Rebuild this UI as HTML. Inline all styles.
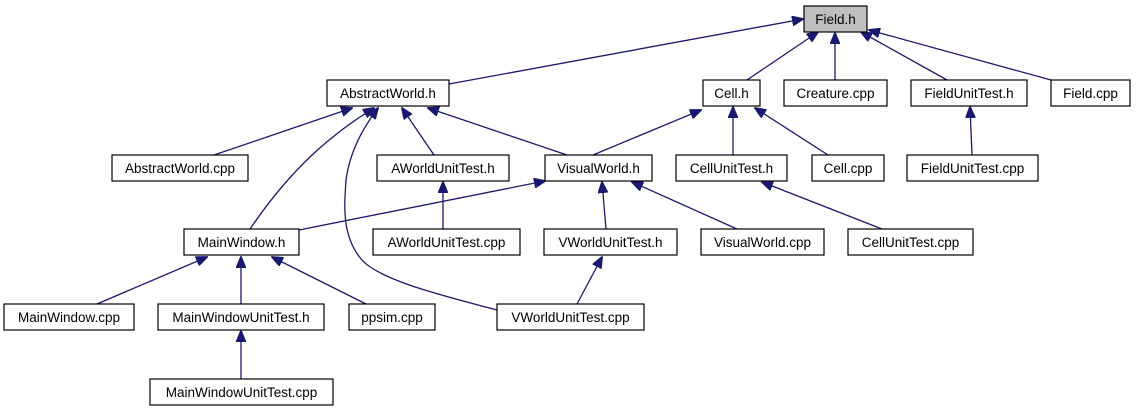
<!DOCTYPE html>
<html><head><meta charset="utf-8"><style>
html,body{margin:0;padding:0;background:#fff;}
svg{display:block;}
text{font-family:"Liberation Sans",sans-serif;font-size:13.5px;fill:#000;}
</style></head><body>
<svg width="1136" height="411" viewBox="0 0 1136 411" xmlns="http://www.w3.org/2000/svg">
<defs>
<marker id="a" markerWidth="12" markerHeight="10" refX="11" refY="5" orient="auto" markerUnits="userSpaceOnUse">
<path d="M0,0 L12,5 L0,10 Z" fill="#191970" stroke="#191970"/>
</marker>
</defs>
<g stroke="#191970" stroke-width="1.3" fill="none" marker-end="url(#a)">
<line x1="449" y1="84" x2="803" y2="19"/>
<line x1="747" y1="80" x2="818" y2="32"/>
<line x1="835" y1="80" x2="835" y2="33"/>
<line x1="947" y1="80" x2="861" y2="32"/>
<line x1="1051" y1="80" x2="869" y2="30"/>
<line x1="214" y1="155" x2="352" y2="108"/>
<path d="M250,229 C290,170 330,135 374,108"/>
<path d="M497,310 C440,295 380,280 362,260 C340,235 345,200 346,180 C350,150 365,125 378,108"/>
<line x1="434" y1="155" x2="402" y2="108"/>
<line x1="567" y1="155" x2="428" y2="108"/>
<line x1="593" y1="155" x2="701" y2="110"/>
<line x1="733" y1="155" x2="733" y2="107"/>
<line x1="828" y1="155" x2="755" y2="108"/>
<line x1="972" y1="155" x2="970" y2="107"/>
<line x1="299" y1="230" x2="545" y2="181"/>
<line x1="443" y1="229" x2="443" y2="182"/>
<line x1="606" y1="229" x2="602" y2="182"/>
<line x1="737" y1="229" x2="632" y2="182"/>
<line x1="882" y1="229" x2="762" y2="182"/>
<line x1="97" y1="304" x2="207" y2="257"/>
<line x1="241" y1="304" x2="241" y2="257"/>
<line x1="366" y1="304" x2="272" y2="257"/>
<line x1="577" y1="304" x2="602" y2="257"/>
<line x1="241" y1="379" x2="241" y2="331"/>
</g>
<g stroke="#000" stroke-width="1.2" fill="#fff">
<rect x="804" y="6" width="63" height="26" fill="#bfbfbf"/>
<rect x="327" y="80" width="122" height="26"/>
<rect x="703" y="80" width="57" height="26"/>
<rect x="784" y="80" width="103" height="26"/>
<rect x="911" y="80" width="116" height="26"/>
<rect x="1051" y="80" width="79" height="26"/>
<rect x="112" y="155" width="136" height="26"/>
<rect x="377" y="155" width="132" height="26"/>
<rect x="545" y="155" width="107" height="26"/>
<rect x="676" y="155" width="111" height="26"/>
<rect x="812" y="155" width="72" height="26"/>
<rect x="907" y="155" width="131" height="26"/>
<rect x="184" y="229" width="115" height="26"/>
<rect x="373" y="229" width="147" height="26"/>
<rect x="544" y="229" width="133" height="26"/>
<rect x="701" y="229" width="123" height="26"/>
<rect x="848" y="229" width="125" height="26"/>
<rect x="4" y="304" width="130" height="26"/>
<rect x="158" y="304" width="166" height="26"/>
<rect x="349" y="304" width="86" height="26"/>
<rect x="497" y="304" width="147" height="26"/>
<rect x="150" y="379" width="183" height="26"/>
</g>
<g text-anchor="middle">
<text x="835.5" y="24">Field.h</text>
<text x="388" y="98">AbstractWorld.h</text>
<text x="731.5" y="98">Cell.h</text>
<text x="835.5" y="98">Creature.cpp</text>
<text x="969" y="98">FieldUnitTest.h</text>
<text x="1090.5" y="98">Field.cpp</text>
<text x="180" y="173">AbstractWorld.cpp</text>
<text x="443" y="173">AWorldUnitTest.h</text>
<text x="598.5" y="173">VisualWorld.h</text>
<text x="731.5" y="173">CellUnitTest.h</text>
<text x="848" y="173">Cell.cpp</text>
<text x="972.5" y="173">FieldUnitTest.cpp</text>
<text x="241.5" y="247">MainWindow.h</text>
<text x="446.5" y="247">AWorldUnitTest.cpp</text>
<text x="610.5" y="247">VWorldUnitTest.h</text>
<text x="762.5" y="247">VisualWorld.cpp</text>
<text x="910.5" y="247">CellUnitTest.cpp</text>
<text x="69" y="322">MainWindow.cpp</text>
<text x="241" y="322">MainWindowUnitTest.h</text>
<text x="392" y="322">ppsim.cpp</text>
<text x="570.5" y="322">VWorldUnitTest.cpp</text>
<text x="241.5" y="397">MainWindowUnitTest.cpp</text>
</g>
</svg>
</body></html>
